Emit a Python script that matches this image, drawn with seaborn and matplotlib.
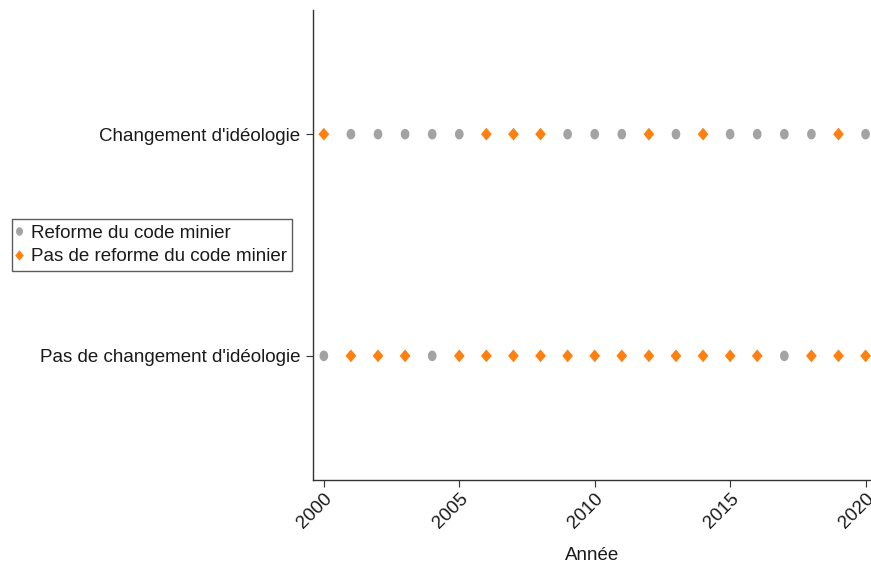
import numpy as np
import pandas as pd
import seaborn as sns
import matplotlib.pyplot as plt
from matplotlib.path import Path

# données
years = list(range(2000, 2021))
categories = ["Changement d'idéologie", "Pas de changement d'idéologie"]
legend_labels = ["Reforme du code minier", "Pas de reforme du code minier"]

# 1 = reforme, 0 = pas de reforme
reforme_changement = [0, 1, 1, 1, 1, 1, 0, 0, 0, 1, 1, 1, 0, 1, 0, 1, 1, 1, 1, 0, 1]
reforme_pas_changement = [1, 0, 0, 0, 1, 0, 0, 0, 0, 0, 0, 0, 0, 0, 0, 0, 0, 1, 0, 0, 0]

rows = []
for cat, vals in zip(categories, [reforme_changement, reforme_pas_changement]):
    for y, v in zip(years, vals):
        rows.append({'Année': y, 'Idéologie': cat,
                     'Reforme': legend_labels[0] if v == 1 else legend_labels[1]})
df = pd.DataFrame(rows)

sns.set_style('white')
plt.rcParams['font.family'] = ['Liberation Sans', 'DejaVu Sans']

# marqueurs un peu étirés verticalement
t = np.linspace(0, 2 * np.pi, 40)
ellipse = Path(np.column_stack([0.41 * np.cos(t), 0.5 * np.sin(t)]))
losange = Path([(0, 0.5), (0.42, 0), (0, -0.5), (-0.42, 0), (0, 0.5)], closed=True)

palette = {legend_labels[0]: '#a3a3a3', legend_labels[1]: '#ff800e'}
markers = {legend_labels[0]: ellipse, legend_labels[1]: losange}
tailles = {legend_labels[0]: 58, legend_labels[1]: 85}

fig = plt.figure(figsize=(8.71, 5.68), dpi=100)
ax = fig.add_axes([313 / 871, 1 - 480 / 568, 1 - 313 / 871, 470 / 568])

sns.scatterplot(data=df, x='Année', y='Idéologie', hue='Reforme', style='Reforme',
                size='Reforme', sizes=tailles, size_order=legend_labels,
                palette=palette, markers=markers, hue_order=legend_labels,
                style_order=legend_labels, linewidth=0, ax=ax, clip_on=False)

ax.set_xlim(1999.6, 2020.2)
ax.set_ylim(1.56, -0.56)
ax.set_xticks([2000, 2005, 2010, 2015, 2020])
ax.set_ylabel('')
ax.set_xlabel('Année', fontsize=13.5, color='#1a1a1a')
ax.xaxis.set_label_coords(0.5, -0.142)

for s in ['top', 'right']:
    ax.spines[s].set_visible(False)
for s in ['left', 'bottom']:
    ax.spines[s].set_color('#333333')
    ax.spines[s].set_linewidth(1.0)

ax.tick_params(axis='both', which='both', direction='out', length=5, width=0.8,
               color='#333333', labelcolor='#1a1a1a', left=True, bottom=True)
ax.tick_params(axis='y', labelsize=13.5, pad=4)
ax.tick_params(axis='x', labelsize=13.5, pad=2)
for lab in ax.get_xticklabels():
    lab.set_rotation(45)
    lab.set_ha('right')
    lab.set_va('top')
    lab.set_rotation_mode('anchor')

ax.get_legend().remove()
handles, labels = ax.get_legend_handles_labels()
leg = fig.legend(handles[:2], labels[:2], loc='upper left',
                 bbox_to_anchor=(12 / 871, 1 - 219 / 568), bbox_transform=fig.transFigure,
                 fontsize=13.5, frameon=True, fancybox=False, borderpad=0.3,
                 handlelength=0.1, handletextpad=0.6, labelspacing=0.35,
                 borderaxespad=0, markerscale=0.8)
leg.get_frame().set_edgecolor('#333333')
leg.get_frame().set_linewidth(1.0)
for txt in leg.get_texts():
    txt.set_color('#1a1a1a')

fig.savefig('out.png', dpi=100)
